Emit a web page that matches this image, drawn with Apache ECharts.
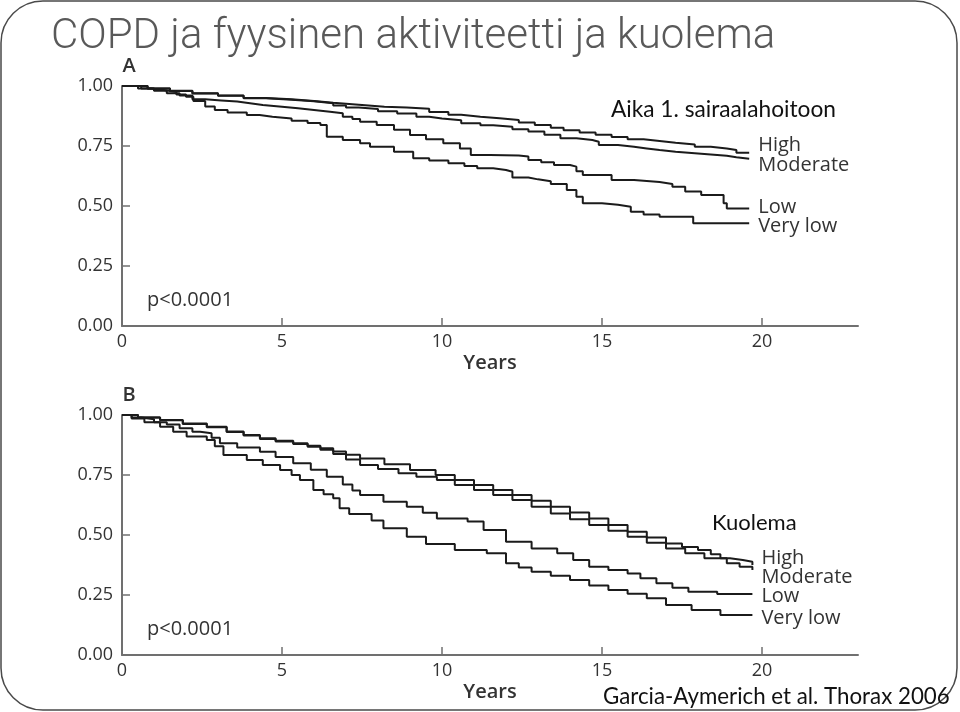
<!DOCTYPE html>
<html>
<head>
<meta charset="utf-8">
<script src="https://cdn.jsdelivr.net/npm/echarts@6/dist/echarts.min.js"></script>
<style>
html,body{margin:0;padding:0;background:#fff;}
#chart{width:960px;height:712px;}
</style>
</head>
<body>
<div id="chart"></div>
<script>
// ---- Data ----
var seriesNames = ['High', 'Moderate', 'Low', 'Very low'];
var xTickValues = [0, 5, 10, 15, 20];
var yTickLabels = ['0.00', '0.25', '0.50', '0.75', '1.00'];

// Panel A: time to first hospital admission
var aHighT = [0,0.8,1.5,2.2,3.0,3.8,4.5,5.3,6.0,6.6,7.4,8.2,8.9,9.6,10.2,10.6,11.2,11.8,12.4,12.9,13.4,13.8,14.3,14.8,15.3,15.8,16.3,16.8,17.3,17.9,18.4,18.9,19.2,19.6];
var aHighV = [1.0,0.99,0.98,0.97,0.96,0.95,0.945,0.937,0.93,0.922,0.914,0.91,0.905,0.892,0.88,0.872,0.866,0.858,0.848,0.838,0.826,0.816,0.806,0.797,0.787,0.778,0.771,0.764,0.756,0.747,0.740,0.733,0.722,0.722];
var aModT = [0,0.8,1.5,2.2,3.0,3.8,4.5,5.3,6.0,6.6,7.0,7.4,8.0,8.6,9.2,9.6,10.0,10.6,11.2,11.6,12.2,12.7,13.2,13.7,14.2,14.7,14.9,15.5,16.0,16.4,16.8,17.3,17.9,18.4,18.9,19.2,19.6];
var aModV = [1.0,0.99,0.979,0.969,0.959,0.949,0.943,0.936,0.928,0.919,0.91,0.904,0.895,0.885,0.872,0.865,0.857,0.845,0.836,0.83,0.82,0.81,0.797,0.782,0.775,0.768,0.754,0.747,0.740,0.733,0.726,0.720,0.715,0.709,0.703,0.697,0.697];
var aLowT = [0,0.6,1.0,1.4,1.8,2.2,2.6,3.1,3.6,4.0,4.4,5.0,5.5,6.0,6.5,6.9,7.2,7.44,7.96,8.5,9.0,9.5,10.04,10.56,10.9,11.5,12.4,12.7,13.1,13.5,14.0,14.2,14.4,15.3,16.0,16.8,17.2,17.6,18.1,18.8,18.9,19.6];
var aLowV = [1.0,0.99,0.98,0.97,0.96,0.945,0.94,0.935,0.928,0.921,0.914,0.907,0.9,0.893,0.886,0.872,0.862,0.851,0.838,0.818,0.796,0.778,0.761,0.740,0.713,0.71,0.706,0.692,0.682,0.671,0.664,0.645,0.629,0.608,0.6,0.592,0.58,0.56,0.546,0.511,0.49,0.49];
var aVlowT = [0,0.5,0.9,1.3,1.7,2.0,2.23,2.6,2.9,3.3,3.9,4.3,4.7,5.3,5.8,6.2,6.4,6.9,7.44,7.75,8.5,9.1,9.6,10.2,10.7,11.1,11.6,12.0,12.2,12.7,13.0,13.4,13.9,14.2,14.4,15.0,15.5,15.9,16.3,16.8,17.85,19.6];
var aVlowV = [1.0,0.99,0.983,0.975,0.965,0.955,0.937,0.915,0.9,0.89,0.879,0.872,0.865,0.855,0.846,0.837,0.789,0.775,0.761,0.747,0.726,0.699,0.69,0.678,0.667,0.657,0.65,0.643,0.619,0.611,0.603,0.592,0.567,0.539,0.511,0.505,0.497,0.476,0.465,0.455,0.428,0.428];

// Panel B: mortality
var bHighT = [0,0.5,1.19,1.9,2.65,3.27,3.8,4.31,4.8,5.35,5.8,6.2,6.6,7.0,7.44,8.2,9.0,9.8,10.4,11.0,11.6,12.2,12.8,13.4,14.0,14.6,15.2,15.8,16.4,17.0,17.5,18.0,18.4,18.7,19.0,19.4,19.7];
var bHighV = [1.0,0.99,0.979,0.965,0.951,0.931,0.917,0.903,0.893,0.882,0.872,0.861,0.848,0.834,0.819,0.795,0.771,0.75,0.729,0.708,0.688,0.667,0.643,0.618,0.594,0.569,0.542,0.514,0.49,0.465,0.45,0.4375,0.42,0.403,0.396,0.389,0.375];
var bModT = [0,0.5,1.19,1.9,2.65,3.27,3.8,4.31,4.8,5.35,5.8,6.2,6.6,7.0,7.44,8.0,8.64,9.2,9.84,10.4,11.0,11.6,12.2,12.8,13.4,14.0,14.6,15.2,15.8,16.4,17.0,17.6,18.2,18.9,19.3,19.7];
var bModV = [1.0,0.99,0.978,0.963,0.949,0.929,0.915,0.9,0.89,0.879,0.868,0.855,0.838,0.815,0.792,0.775,0.757,0.743,0.729,0.708,0.688,0.667,0.646,0.618,0.59,0.566,0.542,0.518,0.493,0.468,0.444,0.424,0.403,0.382,0.368,0.354];
var bLowT = [0,0.3,0.6,1.0,1.4,1.8,2.2,2.44,2.8,3.06,3.6,4.31,4.8,5.35,5.9,6.4,6.9,7.2,7.44,8.17,8.9,9.4,9.84,10.8,11.3,12.0,12.8,13.6,14.1,14.6,15.2,15.8,16.2,16.7,17.2,17.7,18.6,19.7];
var bLowV = [1.0,0.99,0.982,0.97,0.96,0.945,0.93,0.924,0.905,0.882,0.865,0.847,0.825,0.799,0.772,0.743,0.71,0.685,0.667,0.639,0.618,0.593,0.569,0.556,0.521,0.472,0.444,0.424,0.396,0.368,0.354,0.34,0.32,0.299,0.28,0.264,0.254,0.254];
var bVlowT = [0,0.3,0.7,1.19,1.6,2.02,2.65,2.9,3.17,3.9,4.4,4.94,5.3,5.56,5.98,6.3,6.6,6.8,7.1,7.44,7.8,8.17,8.9,9.5,10.4,11.4,12.0,12.4,12.8,13.4,14.0,14.6,15.2,15.8,16.4,17.0,17.8,18.7,19.7];
var bVlowV = [1.0,0.985,0.97,0.951,0.93,0.91,0.896,0.87,0.833,0.8125,0.792,0.771,0.75,0.729,0.6875,0.67,0.653,0.611,0.587,0.587,0.56,0.528,0.493,0.4625,0.4375,0.424,0.382,0.365,0.347,0.33,0.3125,0.29,0.271,0.255,0.236,0.208,0.1875,0.167,0.167];

// ---- Build ----
function zip(t, v) { var out = []; for (var i = 0; i < t.length; i++) out.push([t[i], v[i]]); return out; }

var panelA = [zip(aHighT, aHighV), zip(aModT, aModV), zip(aLowT, aLowV), zip(aVlowT, aVlowV)];
var panelB = [zip(bHighT, bHighV), zip(bModT, bModV), zip(bLowT, bLowV), zip(bVlowT, bVlowV)];

var labelOffsetsA = [[0, -7], [0, 7], [0, -1], [0, 3]];
var labelOffsetsB = [[0, -7], [0, 7], [0, 2], [0, 3]];

var axisFont = 'Open Sans';
var textColor = '#333';
var axisColor = '#707070';

function xAxisDef(gi) {
  return {
    type: 'value', gridIndex: gi, min: 0, max: 23,
    axisLine: { show: true, lineStyle: { color: axisColor, width: 2 } },
    axisTick: { show: true, inside: true, length: 8, customValues: [5, 10, 15, 20], lineStyle: { color: axisColor, width: 1.5 } },
    axisLabel: { customValues: xTickValues, color: textColor, fontFamily: axisFont, fontSize: 18, margin: 7 },
    splitLine: { show: false },
    name: 'Years', nameLocation: 'middle', nameGap: 27,
    nameTextStyle: { color: textColor, fontFamily: axisFont, fontSize: 20, fontWeight: 600 }
  };
}
function yAxisDef(gi) {
  return {
    type: 'value', gridIndex: gi, min: 0, max: 1, interval: 0.25,
    axisLine: { show: true, lineStyle: { color: axisColor, width: 2 } },
    axisTick: { show: true, inside: true, length: 8, lineStyle: { color: axisColor, width: 1.5 } },
    axisLabel: { color: textColor, fontFamily: axisFont, fontSize: 18, margin: 9,
      formatter: function (v) { return yTickLabels[Math.round(v / 0.25)]; } },
    splitLine: { show: false }
  };
}

var series = [];
[panelA, panelB].forEach(function (panel, gi) {
  panel.forEach(function (data, si) {
    var off = gi === 0 ? labelOffsetsA[si] : labelOffsetsB[si];
    series.push({
      type: 'line', name: seriesNames[si], xAxisIndex: gi, yAxisIndex: gi,
      step: 'end', showSymbol: false, symbol: 'none', data: data,
      lineStyle: { color: '#1b1b1b', width: 2 },
      silent: true, animation: false,
      endLabel: { show: true, formatter: '{a}', distance: 9, offset: off,
        color: textColor, fontFamily: axisFont, fontSize: 20 }
    });
  });
});

var chart = echarts.init(document.getElementById('chart'), null, { renderer: 'canvas' });
chart.setOption({
  animation: false,
  backgroundColor: '#fff',
  grid: [
    { left: 122, top: 86, width: 736, height: 240 },
    { left: 122, top: 415, width: 736, height: 240 }
  ],
  xAxis: [xAxisDef(0), xAxisDef(1)],
  yAxis: [yAxisDef(0), yAxisDef(1)],
  series: series,
  graphic: [
    { type: 'rect', shape: { x: 1, y: 1, width: 956, height: 709, r: 42 }, style: { fill: 'none', stroke: '#4a4a4a', lineWidth: 1.5 }, silent: true },
    { type: 'text', x: 51, y: 37, style: { text: 'COPD ja fyysinen aktiviteetti ja kuolema', fontFamily: 'Roboto', fontWeight: 300, fontSize: 42, fill: '#595959', verticalAlign: 'middle', align: 'left' } },
    { type: 'text', x: 129, y: 66, style: { text: 'A', fontFamily: axisFont, fontWeight: 600, fontSize: 20, fill: textColor, verticalAlign: 'middle', align: 'center' } },
    { type: 'text', x: 129, y: 395, style: { text: 'B', fontFamily: axisFont, fontWeight: 600, fontSize: 20, fill: textColor, verticalAlign: 'middle', align: 'center' } },
    { type: 'text', x: 147, y: 300, style: { text: 'p<0.0001', fontFamily: axisFont, fontSize: 20, fill: textColor, verticalAlign: 'middle', align: 'left' } },
    { type: 'text', x: 147, y: 629, style: { text: 'p<0.0001', fontFamily: axisFont, fontSize: 20, fill: textColor, verticalAlign: 'middle', align: 'left' } },
    { type: 'text', x: 611, y: 110, style: { text: 'Aika 1. sairaalahoitoon', fontFamily: 'Lato', fontSize: 22.7, fill: '#111', verticalAlign: 'middle', align: 'left' } },
    { type: 'text', x: 712, y: 523, style: { text: 'Kuolema', fontFamily: 'Lato', fontSize: 22, fill: '#111', verticalAlign: 'middle', align: 'left' } },
    { type: 'text', x: 603, y: 697, style: { text: 'Garcia-Aymerich et al. Thorax 2006', fontFamily: 'Lato', fontSize: 22.3, fill: '#111', verticalAlign: 'middle', align: 'left' } }
  ]
});
</script>
</body>
</html>
